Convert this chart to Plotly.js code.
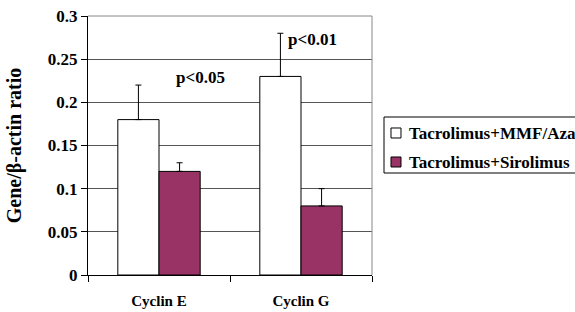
<!DOCTYPE html>
<html><head><meta charset="utf-8">
<script src="https://cdn.plot.ly/plotly-3.0.1.min.js"></script>
<style>html,body{margin:0;padding:0;background:#fff;}#c{width:575px;height:312px;}</style>
</head><body><div id="c"></div>
<script>
const categories = ["Cyclin E", "Cyclin G"];
const seriesNames = ["Tacrolimus+MMF/Aza", "Tacrolimus+Sirolimus"];
const seriesColors = ["#ffffff", "#993366"];
const mmfValues = [0.18, 0.23];
const mmfErrors = [0.04, 0.05];
const siroValues = [0.12, 0.08];
const siroErrors = [0.01, 0.02];
const yTicks = [0, 0.05, 0.1, 0.15, 0.2, 0.25, 0.3];
const yTickLabels = ["0", "0.05", "0.1", "0.15", "0.2", "0.25", "0.3"];
const pLabels = [{text: "p<0.05", x: 0.29, y: 0.229}, {text: "p<0.01", x: 1.08, y: 0.273}];

const F = "Times New Roman, Liberation Serif, DejaVu Serif, serif";
const traces = [
  {type: "bar", name: seriesNames[0], x: categories, y: mmfValues,
   marker: {color: seriesColors[0], line: {color: "#000", width: 1}},
   error_y: {type: "data", array: mmfErrors, arrayminus: [0,0], symmetric: false, color: "#000", thickness: 1, width: 3}},
  {type: "bar", name: seriesNames[1], x: categories, y: siroValues,
   marker: {color: seriesColors[1], line: {color: "#000", width: 1}},
   error_y: {type: "data", array: siroErrors, arrayminus: [0,0], symmetric: false, color: "#000", thickness: 1, width: 3}}
];

// manual legend (paper coordinates)
const legBox = {x0: 1.0423, x1: 1.8, y0: 0.3938, y1: 0.610};
const legRows = [{sy0: 0.529, sy1: 0.5676, ty: 0.548}, {sy0: 0.417, sy1: 0.4556, ty: 0.436}];
const shapes = [
  {type: "line", xref: "paper", yref: "paper", x0: 0, x1: 1, y0: 1, y1: 1, line: {color: "#888", width: 1}},
  {type: "line", xref: "paper", yref: "paper", x0: 1, x1: 1, y0: 0, y1: 1, line: {color: "#888", width: 1}},
  {type: "rect", xref: "paper", yref: "paper", x0: legBox.x0, x1: legBox.x1, y0: legBox.y0, y1: legBox.y1,
   line: {color: "#000", width: 1}, fillcolor: "#fff"}
];
const annotations = pLabels.map(p => ({text: p.text, x: p.x, y: p.y, xref: "x", yref: "y", showarrow: false,
    font: {family: F, size: 17, weight: "bold"}}));
legRows.forEach((r, i) => {
  shapes.push({type: "rect", xref: "paper", yref: "paper", x0: 1.0669, x1: 1.1021, y0: r.sy0, y1: r.sy1,
               line: {color: "#000", width: 1}, fillcolor: seriesColors[i]});
  annotations.push({text: seriesNames[i], xref: "paper", yref: "paper", x: 1.1232, y: r.ty,
                    xanchor: "left", yanchor: "middle", showarrow: false,
                    font: {family: F, size: 17, weight: "bold"}});
});

const layout = {
  width: 575, height: 312,
  margin: {l: 88, r: 203, t: 16, b: 37},
  paper_bgcolor: "#fff", plot_bgcolor: "#fff",
  barmode: "group", bargap: 0.42, bargroupgap: 0,
  font: {family: F, color: "#000", size: 15, weight: "bold"},
  xaxis: {tickson: "boundaries", ticks: "outside", ticklen: 6, tickcolor: "#000",
          showline: true, linecolor: "#000", linewidth: 1, mirror: false, ticklabelstandoff: 12,
          tickfont: {family: F, size: 15, weight: "bold"}, automargin: false},
  yaxis: {range: [0, 0.3], tickvals: yTicks, ticktext: yTickLabels,
          ticks: "outside", ticklen: 6, tickcolor: "#000",
          showline: true, linecolor: "#000", linewidth: 1,
          showgrid: true, gridcolor: "#555", gridwidth: 1, zeroline: false,
          tickfont: {family: F, size: 17, weight: "bold"}, automargin: false,
          title: {text: "Gene/β-actin ratio", font: {family: F, size: 20, weight: "bold"}, standoff: 20}},
  shapes: shapes,
  annotations: annotations,
  showlegend: false
};
Plotly.newPlot("c", traces, layout, {displayModeBar: false, staticPlot: true});
</script></body></html>
